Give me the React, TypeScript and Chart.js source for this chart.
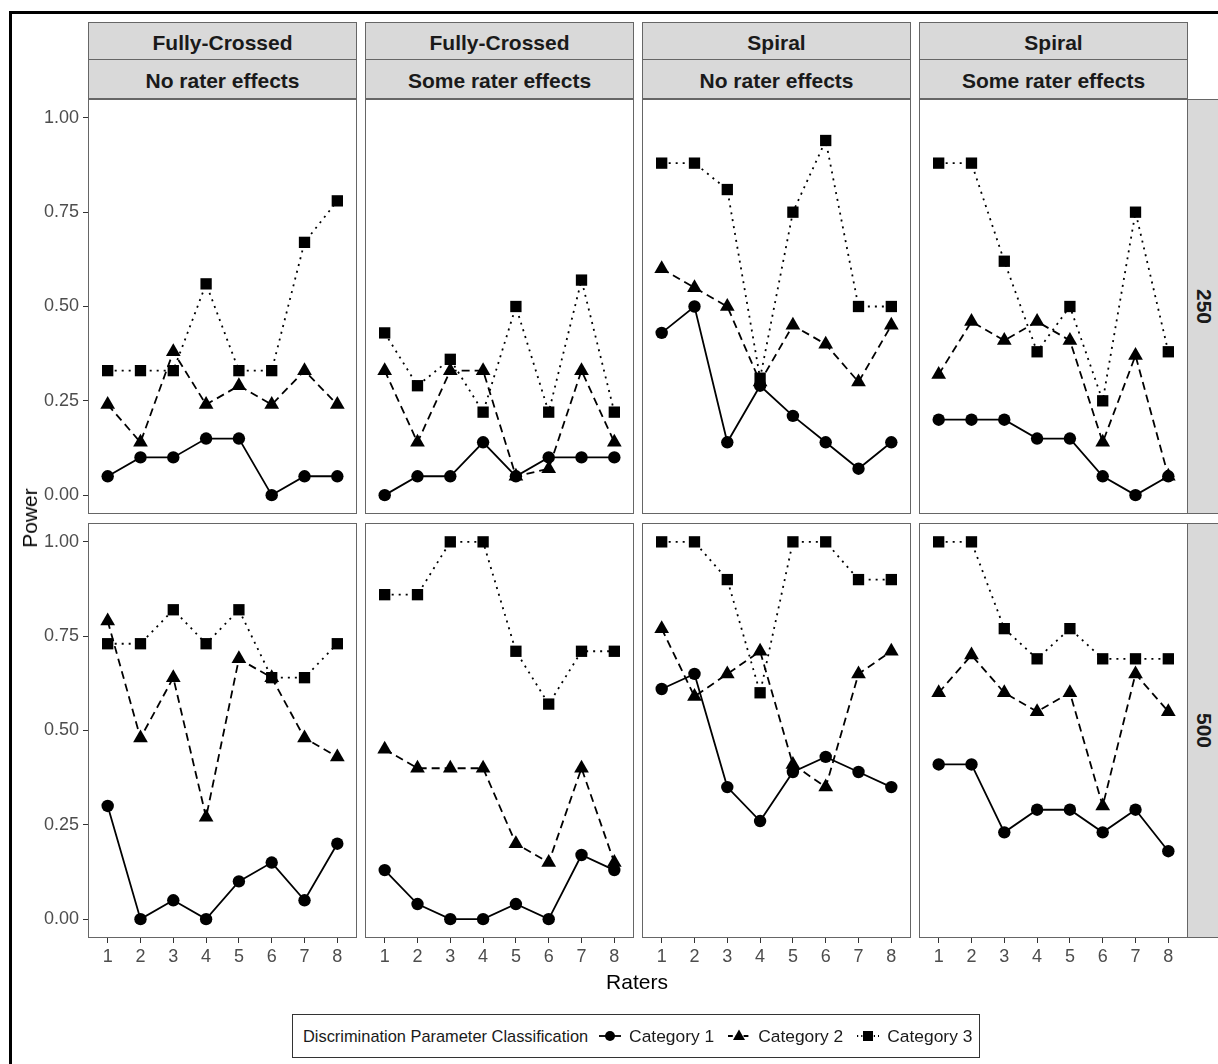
import React, { useEffect, useRef } from "react";
import { Chart, registerables } from "chart.js";

Chart.register(...registerables);

// ---------- data ----------
const raters = [1, 2, 3, 4, 5, 6, 7, 8];
const yTicks = [0, 0.25, 0.5, 0.75, 1];
const designLabels = ["Fully-Crossed", "Fully-Crossed", "Spiral", "Spiral"];
const effectLabels = ["No rater effects", "Some rater effects", "No rater effects", "Some rater effects"];
const sampleLabels = ["250", "500"];
const categoryLabels = ["Category 1", "Category 2", "Category 3"];
const legendTitle = "Discrimination Parameter Classification";
const xTitle = "Raters";
const yTitle = "Power";

// sample size 250
const fcNo250Cat1 = [0.05, 0.1, 0.1, 0.15, 0.15, 0.0, 0.05, 0.05];
const fcNo250Cat2 = [0.24, 0.14, 0.38, 0.24, 0.29, 0.24, 0.33, 0.24];
const fcNo250Cat3 = [0.33, 0.33, 0.33, 0.56, 0.33, 0.33, 0.67, 0.78];

const fcSome250Cat1 = [0.0, 0.05, 0.05, 0.14, 0.05, 0.1, 0.1, 0.1];
const fcSome250Cat2 = [0.33, 0.14, 0.33, 0.33, 0.05, 0.07, 0.33, 0.14];
const fcSome250Cat3 = [0.43, 0.29, 0.36, 0.22, 0.5, 0.22, 0.57, 0.22];

const spNo250Cat1 = [0.43, 0.5, 0.14, 0.29, 0.21, 0.14, 0.07, 0.14];
const spNo250Cat2 = [0.6, 0.55, 0.5, 0.3, 0.45, 0.4, 0.3, 0.45];
const spNo250Cat3 = [0.88, 0.88, 0.81, 0.31, 0.75, 0.94, 0.5, 0.5];

const spSome250Cat1 = [0.2, 0.2, 0.2, 0.15, 0.15, 0.05, 0.0, 0.05];
const spSome250Cat2 = [0.32, 0.46, 0.41, 0.46, 0.41, 0.14, 0.37, 0.05];
const spSome250Cat3 = [0.88, 0.88, 0.62, 0.38, 0.5, 0.25, 0.75, 0.38];

// sample size 500
const fcNo500Cat1 = [0.3, 0.0, 0.05, 0.0, 0.1, 0.15, 0.05, 0.2];
const fcNo500Cat2 = [0.79, 0.48, 0.64, 0.27, 0.69, 0.64, 0.48, 0.43];
const fcNo500Cat3 = [0.73, 0.73, 0.82, 0.73, 0.82, 0.64, 0.64, 0.73];

const fcSome500Cat1 = [0.13, 0.04, 0.0, 0.0, 0.04, 0.0, 0.17, 0.13];
const fcSome500Cat2 = [0.45, 0.4, 0.4, 0.4, 0.2, 0.15, 0.4, 0.15];
const fcSome500Cat3 = [0.86, 0.86, 1.0, 1.0, 0.71, 0.57, 0.71, 0.71];

const spNo500Cat1 = [0.61, 0.65, 0.35, 0.26, 0.39, 0.43, 0.39, 0.35];
const spNo500Cat2 = [0.77, 0.59, 0.65, 0.71, 0.41, 0.35, 0.65, 0.71];
const spNo500Cat3 = [1.0, 1.0, 0.9, 0.6, 1.0, 1.0, 0.9, 0.9];

const spSome500Cat1 = [0.41, 0.41, 0.23, 0.29, 0.29, 0.23, 0.29, 0.18];
const spSome500Cat2 = [0.6, 0.7, 0.6, 0.55, 0.6, 0.3, 0.65, 0.55];
const spSome500Cat3 = [1.0, 1.0, 0.77, 0.69, 0.77, 0.69, 0.69, 0.69];

const panelSeries = [
  [
    [fcNo250Cat1, fcNo250Cat2, fcNo250Cat3],
    [fcSome250Cat1, fcSome250Cat2, fcSome250Cat3],
    [spNo250Cat1, spNo250Cat2, spNo250Cat3],
    [spSome250Cat1, spSome250Cat2, spSome250Cat3],
  ],
  [
    [fcNo500Cat1, fcNo500Cat2, fcNo500Cat3],
    [fcSome500Cat1, fcSome500Cat2, fcSome500Cat3],
    [spNo500Cat1, spNo500Cat2, spNo500Cat3],
    [spSome500Cat1, spSome500Cat2, spSome500Cat3],
  ],
];

// ---------- styling / layout ----------
const FONT = "'Liberation Sans', Arial, sans-serif";
const PANEL_W = 269;
const PANEL_H = 415;
const COL_X = [88, 365, 642, 919];
const ROW_Y = [99, 523];
const Y_AXIS_W = 60;
const X_AXIS_H = 40;
const BORDER_COLOR = "#666666";
const STRIP_BG = "#d9d9d9";

const dashes: number[][] = [[], [8, 5], [2, 5]];
const pointStyles = ["circle", "triangle", "rect"];
const pointRadii = [6.2, 8.5, 8];

const panelBorder = {
  id: "panelBorder",
  afterDatasetsDraw(chart: any) {
    const { ctx, chartArea } = chart;
    ctx.save();
    ctx.strokeStyle = BORDER_COLOR;
    ctx.lineWidth = 1;
    ctx.strokeRect(
      chartArea.left + 0.5,
      chartArea.top + 0.5,
      chartArea.right - chartArea.left - 1,
      chartArea.bottom - chartArea.top - 1
    );
    ctx.restore();
  },
};

function Panel({ row, col }: { row: number; col: number }) {
  const ref = useRef<HTMLCanvasElement>(null);
  const showY = col === 0;
  const showX = row === 1;
  const w = PANEL_W + (showY ? Y_AXIS_W : 0);
  const h = PANEL_H + (showX ? X_AXIS_H : 0);
  const left = COL_X[col] - (showY ? Y_AXIS_W : 0);
  const top = ROW_Y[row];

  useEffect(() => {
    const series = panelSeries[row][col];
    const xScale: any = {
      type: "linear",
      min: 0.4,
      max: 8.6,
      display: showX,
      afterBuildTicks: (s: any) => {
        s.ticks = raters.map((v) => ({ value: v }));
      },
      grid: {
        drawOnChartArea: false,
        drawTicks: true,
        tickLength: 5,
        tickColor: "#333333",
        tickWidth: 1,
      },
      border: { display: false },
      ticks: {
        padding: 3,
        color: "#4d4d4d",
        font: { family: FONT, size: 18 },
        callback: (v: any) => String(v),
      },
    };
    if (showX)
      xScale.afterFit = (s: any) => {
        s.height = X_AXIS_H;
        s.paddingLeft = 0;
        s.paddingRight = 0;
      };
    const yScale: any = {
      type: "linear",
      min: -0.05,
      max: 1.05,
      display: showY,
      afterBuildTicks: (s: any) => {
        s.ticks = yTicks.map((v) => ({ value: v }));
      },
      grid: {
        drawOnChartArea: false,
        drawTicks: true,
        tickLength: 5,
        tickColor: "#333333",
        tickWidth: 1,
      },
      border: { display: false },
      ticks: {
        padding: 4,
        color: "#4d4d4d",
        font: { family: FONT, size: 18 },
        callback: (v: any) => Number(v).toFixed(2),
      },
    };
    if (showY)
      yScale.afterFit = (s: any) => {
        s.width = Y_AXIS_W;
        s.paddingTop = 0;
        s.paddingBottom = 0;
      };

    const chart = new Chart(ref.current as HTMLCanvasElement, {
      type: "line",
      data: {
        datasets: series.map((vals, k) => ({
          label: categoryLabels[k],
          data: vals.map((v, i) => ({ x: raters[i], y: v })),
          order: -k,
          borderColor: "#000000",
          backgroundColor: "#000000",
          borderWidth: 1.8,
          borderDash: dashes[k],
          pointStyle: pointStyles[k] as any,
          pointRadius: pointRadii[k],
          pointBorderWidth: 0,
          pointBackgroundColor: "#000000",
          tension: 0,
          fill: false,
        })),
      },
      options: {
        animation: false,
        responsive: false,
        maintainAspectRatio: false,
        layout: { padding: 0, autoPadding: false },
        events: [],
        plugins: {
          legend: { display: false },
          tooltip: { enabled: false },
        },
        scales: { x: xScale, y: yScale },
      },
      plugins: [panelBorder],
    });
    return () => chart.destroy();
  }, [row, col]);

  return (
    <canvas
      ref={ref}
      width={w}
      height={h}
      style={{ position: "absolute", left, top, width: w, height: h }}
    />
  );
}

function LegendKey({ k }: { k: number }) {
  const cx = 12;
  const cy = 10;
  let marker: React.ReactNode = null;
  if (k === 0) marker = <circle cx={cx} cy={cy} r={5} fill="#000" />;
  if (k === 1)
    marker = <polygon points={`${cx},${cy - 6.5} ${cx + 6},${cy + 4} ${cx - 6},${cy + 4}`} fill="#000" />;
  if (k === 2) marker = <rect x={cx - 5} y={cy - 5} width={10} height={10} fill="#000" />;
  return (
    <svg width={24} height={20} style={{ display: "block" }}>
      <line
        x1={1}
        y1={cy}
        x2={23}
        y2={cy}
        stroke="#000"
        strokeWidth={1.8}
        strokeDasharray={dashes[k].length ? dashes[k].map((d) => d * 0.6).join(" ") : undefined}
      />
      {marker}
    </svg>
  );
}

export default function App() {
  const stripBase: React.CSSProperties = {
    position: "absolute",
    boxSizing: "border-box",
    background: STRIP_BG,
    border: `1px solid ${BORDER_COLOR}`,
    display: "flex",
    alignItems: "center",
    justifyContent: "center",
    fontFamily: FONT,
    fontWeight: "bold",
    fontSize: 21,
    color: "#1a1a1a",
    whiteSpace: "nowrap",
  };

  return (
    <div
      style={{
        position: "absolute",
        left: 0,
        top: 0,
        width: 1218,
        height: 1064,
        overflow: "hidden",
        background: "#ffffff",
        fontFamily: FONT,
      }}
    >
      {/* outer frame */}
      <div
        style={{
          position: "absolute",
          left: 9,
          top: 11,
          width: 1230,
          height: 1080,
          borderLeft: "3px solid #000",
          borderTop: "3px solid #000",
        }}
      />

      {/* top strips */}
      {COL_X.map((x, c) => (
        <React.Fragment key={`s${c}`}>
          <div style={{ ...stripBase, left: x, top: 22, width: PANEL_W, height: 38, paddingTop: 3 }}>
            {designLabels[c]}
          </div>
          <div style={{ ...stripBase, left: x, top: 59, width: PANEL_W, height: 40, paddingTop: 3 }}>
            {effectLabels[c]}
          </div>
        </React.Fragment>
      ))}

      {/* right strips */}
      {ROW_Y.map((y, r) => (
        <div
          key={`r${r}`}
          style={{ ...stripBase, left: COL_X[3] + PANEL_W - 1, top: y, width: 34, height: PANEL_H }}
        >
          <span style={{ writingMode: "vertical-rl" }}>{sampleLabels[r]}</span>
        </div>
      ))}

      {/* panels */}
      {[0, 1].map((r) => [0, 1, 2, 3].map((c) => <Panel key={`p${r}${c}`} row={r} col={c} />))}

      {/* axis titles */}
      <div
        style={{
          position: "absolute",
          left: 30,
          top: 518,
          transform: "translate(-50%, -50%) rotate(-90deg)",
          fontSize: 21,
          color: "#000",
          whiteSpace: "nowrap",
        }}
      >
        {yTitle}
      </div>
      <div
        style={{
          position: "absolute",
          left: 637,
          top: 982,
          transform: "translate(-50%, -50%)",
          fontSize: 21,
          color: "#000",
          whiteSpace: "nowrap",
        }}
      >
        {xTitle}
      </div>

      {/* legend */}
      <div
        style={{
          position: "absolute",
          left: 292,
          top: 1014,
          width: 688,
          height: 44,
          boxSizing: "border-box",
          border: "1px solid #333",
          display: "flex",
          alignItems: "center",
          paddingLeft: 10,
          whiteSpace: "nowrap",
          color: "#1a1a1a",
        }}
      >
        <span style={{ fontSize: 16.4 }}>{legendTitle}</span>
        {categoryLabels.map((lab, k) => (
          <React.Fragment key={lab}>
            <span style={{ marginLeft: k === 0 ? 10 : 13 }}>
              <LegendKey k={k} />
            </span>
            <span style={{ marginLeft: 7, fontSize: 17.4 }}>{lab}</span>
          </React.Fragment>
        ))}
      </div>
    </div>
  );
}
